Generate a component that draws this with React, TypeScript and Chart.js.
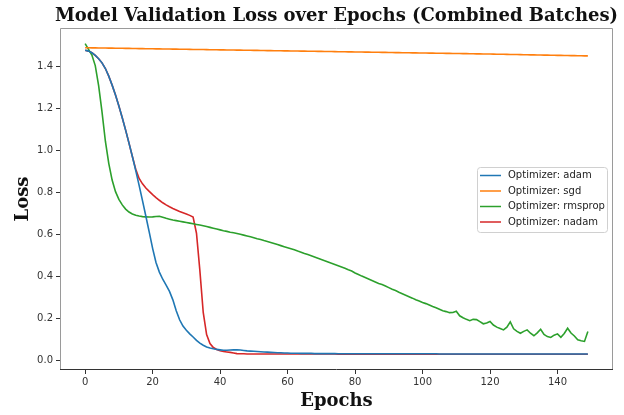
import React, { useEffect, useRef } from "react";
import { Chart, registerables } from "chart.js";

Chart.register(...registerables);

// Epoch indices 0..149
const epochs: number[] = Array.from({ length: 150 }, (_, i) => i);

const xTicks = [0, 20, 40, 60, 80, 100, 120, 140];
const yTicks = [0.0, 0.2, 0.4, 0.6, 0.8, 1.0, 1.2, 1.4];

const adamLoss = [
  1.478, 1.474, 1.466, 1.454, 1.438, 1.418, 1.391, 1.355, 1.312, 1.265,
  1.213, 1.157, 1.098, 1.036, 0.972, 0.905, 0.835, 0.762, 0.688, 0.612,
  0.535, 0.468, 0.422, 0.388, 0.36, 0.33, 0.29, 0.238, 0.195, 0.165,
  0.145, 0.128, 0.113, 0.097, 0.084, 0.074, 0.066, 0.061, 0.057, 0.054,
  0.052, 0.05, 0.05, 0.051, 0.052, 0.052, 0.051, 0.049, 0.047, 0.046,
  0.045, 0.044, 0.043, 0.042, 0.041, 0.04, 0.039, 0.038, 0.038, 0.037,
  0.037, 0.036, 0.036, 0.036, 0.035, 0.035, 0.035, 0.035, 0.034, 0.034,
  0.034, 0.034, 0.034, 0.034, 0.034, 0.033, 0.033, 0.033, 0.033, 0.033,
  0.033, 0.033, 0.033, 0.033, 0.033, 0.033, 0.033, 0.033, 0.033, 0.033,
  0.033, 0.033, 0.033, 0.033, 0.033, 0.033, 0.033, 0.033, 0.033, 0.033,
  0.033, 0.033, 0.033, 0.033, 0.033, 0.032, 0.032, 0.032, 0.032, 0.032,
  0.032, 0.032, 0.032, 0.032, 0.032, 0.032, 0.032, 0.032, 0.032, 0.032,
  0.032, 0.032, 0.032, 0.032, 0.032, 0.032, 0.032, 0.032, 0.032, 0.032,
  0.032, 0.032, 0.032, 0.032, 0.032, 0.032, 0.032, 0.032, 0.032, 0.032,
  0.032, 0.032, 0.032, 0.032, 0.032, 0.032, 0.032, 0.032, 0.032, 0.032,
];

const sgdLoss = [
  1.49, 1.4898, 1.4895, 1.4893, 1.489, 1.4888, 1.4885, 1.4883, 1.488, 1.4878,
  1.4875, 1.4873, 1.487, 1.4868, 1.4865, 1.4863, 1.486, 1.4858, 1.4855, 1.4853,
  1.485, 1.4848, 1.4845, 1.4843, 1.484, 1.4838, 1.4835, 1.4833, 1.483, 1.4828,
  1.4825, 1.4823, 1.482, 1.4818, 1.4815, 1.4813, 1.481, 1.4808, 1.4805, 1.4803,
  1.48, 1.4798, 1.4795, 1.4793, 1.479, 1.4788, 1.4785, 1.4783, 1.478, 1.4778,
  1.4775, 1.4773, 1.477, 1.4768, 1.4765, 1.4763, 1.476, 1.4758, 1.4755, 1.4753,
  1.475, 1.4748, 1.4745, 1.4743, 1.474, 1.4738, 1.4735, 1.4733, 1.473, 1.4728,
  1.4725, 1.4723, 1.472, 1.4718, 1.4715, 1.4713, 1.471, 1.4708, 1.4705, 1.4703,
  1.47, 1.4698, 1.4695, 1.4693, 1.469, 1.4688, 1.4685, 1.4683, 1.468, 1.4678,
  1.4675, 1.4673, 1.467, 1.4668, 1.4665, 1.4663, 1.466, 1.4658, 1.4655, 1.4653,
  1.465, 1.4648, 1.4645, 1.4643, 1.4641, 1.4638, 1.4636, 1.4634, 1.4631, 1.4629,
  1.4626, 1.4624, 1.4621, 1.4618, 1.4616, 1.4613, 1.461, 1.4608, 1.4605, 1.4602,
  1.4599, 1.4596, 1.4593, 1.459, 1.4587, 1.4584, 1.4581, 1.4578, 1.4575, 1.4572,
  1.4569, 1.4566, 1.4563, 1.456, 1.4557, 1.4554, 1.4551, 1.4548, 1.4545, 1.4542,
  1.4539, 1.4536, 1.4533, 1.453, 1.4527, 1.4524, 1.4521, 1.4518, 1.4515, 1.4512,
];

const rmspropLoss = [
  1.51, 1.482, 1.455, 1.405, 1.31, 1.185, 1.045, 0.94, 0.86, 0.805,
  0.768, 0.742, 0.722, 0.708, 0.699, 0.693, 0.689, 0.686, 0.685, 0.684,
  0.685, 0.687, 0.688, 0.683, 0.678, 0.674, 0.67, 0.667, 0.664, 0.661,
  0.658, 0.655, 0.652, 0.649, 0.646, 0.643, 0.639, 0.635, 0.631, 0.627,
  0.623, 0.619, 0.616, 0.612, 0.609, 0.606, 0.602, 0.598, 0.594, 0.59,
  0.586, 0.581, 0.577, 0.572, 0.568, 0.563, 0.558, 0.553, 0.548, 0.543,
  0.538, 0.533, 0.528, 0.522, 0.517, 0.511, 0.506, 0.5, 0.494, 0.488,
  0.482, 0.476, 0.47, 0.464, 0.458, 0.452, 0.446, 0.44, 0.433, 0.427,
  0.418, 0.411, 0.403, 0.396, 0.389, 0.382, 0.375, 0.368, 0.363, 0.356,
  0.348, 0.34, 0.334, 0.326, 0.319, 0.312, 0.305, 0.298, 0.29, 0.284,
  0.277, 0.272, 0.265, 0.258, 0.252, 0.245, 0.238, 0.234, 0.229, 0.23,
  0.236, 0.214, 0.205, 0.197, 0.191, 0.197, 0.196, 0.186, 0.176, 0.18,
  0.187, 0.17, 0.16, 0.154, 0.147, 0.16, 0.185, 0.152, 0.14, 0.131,
  0.14, 0.147, 0.131, 0.119, 0.133, 0.15, 0.125, 0.115, 0.111, 0.122,
  0.128, 0.112, 0.13, 0.155, 0.132, 0.118, 0.1, 0.095, 0.092, 0.139,
];

const nadamLoss = [
  1.478, 1.474, 1.466, 1.454, 1.438, 1.418, 1.391, 1.355, 1.312, 1.265,
  1.213, 1.157, 1.098, 1.036, 0.972, 0.912, 0.868, 0.842, 0.822, 0.806,
  0.791, 0.777, 0.764, 0.752, 0.742, 0.733, 0.725, 0.718, 0.711, 0.705,
  0.699, 0.692, 0.684, 0.607, 0.43, 0.23, 0.125, 0.082, 0.063, 0.054,
  0.048, 0.044, 0.042, 0.04, 0.037, 0.034, 0.033, 0.033, 0.032, 0.032,
  0.032, 0.032, 0.032, 0.032, 0.032, 0.032, 0.032, 0.032, 0.032, 0.032,
  0.032, 0.032, 0.032, 0.032, 0.032, 0.032, 0.032, 0.032, 0.032, 0.032,
  0.032, 0.032, 0.032, 0.032, 0.032, 0.031, 0.031, 0.031, 0.031, 0.031,
  0.031, 0.031, 0.031, 0.031, 0.031, 0.031, 0.031, 0.031, 0.031, 0.031,
  0.031, 0.031, 0.031, 0.031, 0.031, 0.031, 0.031, 0.031, 0.031, 0.031,
  0.031, 0.031, 0.031, 0.031, 0.031, 0.031, 0.031, 0.031, 0.031, 0.031,
  0.031, 0.031, 0.031, 0.031, 0.031, 0.031, 0.031, 0.031, 0.031, 0.031,
  0.031, 0.031, 0.031, 0.031, 0.031, 0.031, 0.031, 0.031, 0.031, 0.031,
  0.031, 0.031, 0.031, 0.031, 0.031, 0.031, 0.031, 0.031, 0.031, 0.031,
  0.031, 0.031, 0.031, 0.031, 0.031, 0.031, 0.031, 0.031, 0.031, 0.031,
];

const seriesNames = ["Optimizer: adam", "Optimizer: sgd", "Optimizer: rmsprop", "Optimizer: nadam"];
const seriesValues = [adamLoss, sgdLoss, rmspropLoss, nadamLoss];
const seriesColors = ["#1f77b4", "#ff7f0e", "#2ca02c", "#d62728"];

const titleText = "Model Validation Loss over Epochs (Combined Batches)";
const xLabel = "Epochs";
const yLabel = "Loss";

const SANS = "'DejaVu Sans', sans-serif";
const SERIF = "'DejaVu Serif', serif";

// Title, axis labels, frame and legend drawn in matplotlib style
const decorations = {
  id: "decorations",
  afterDraw(chart: Chart) {
    const { ctx, chartArea } = chart;
    const { left, right, top, bottom } = chartArea;
    ctx.save();

    // frame
    ctx.lineWidth = 1;
    ctx.strokeStyle = "#9a9a9a";
    ctx.beginPath();
    ctx.moveTo(left + 0.5, bottom);
    ctx.lineTo(left + 0.5, top + 0.5);
    ctx.lineTo(right - 0.5, top + 0.5);
    ctx.lineTo(right - 0.5, bottom);
    ctx.stroke();
    ctx.strokeStyle = "#333333";
    ctx.beginPath();
    ctx.moveTo(left, bottom - 0.5);
    ctx.lineTo(right, bottom - 0.5);
    ctx.stroke();

    // title
    ctx.fillStyle = "#111";
    ctx.textAlign = "center";
    ctx.textBaseline = "middle";
    ctx.font = `bold 18px ${SERIF}`;
    ctx.fillText(titleText, (left + right) / 2, 16);

    // axis titles
    ctx.font = `bold 18px ${SERIF}`;
    ctx.fillText(xLabel, (left + right) / 2, 401);
    ctx.save();
    ctx.translate(23, (top + bottom) / 2);
    ctx.rotate(-Math.PI / 2);
    ctx.fillText(yLabel, 0, 0);
    ctx.restore();

    // legend
    const bx = 477, by = 167, bw = 130, bh = 65;
    ctx.fillStyle = "rgba(255,255,255,0.85)";
    ctx.strokeStyle = "#d0d0d0";
    ctx.lineWidth = 1;
    ctx.beginPath();
    ctx.roundRect(bx + 0.5, by + 0.5, bw, bh, 3);
    ctx.fill();
    ctx.stroke();
    ctx.font = `10px ${SANS}`;
    ctx.textAlign = "left";
    ctx.textBaseline = "middle";
    seriesNames.forEach((name, i) => {
      const y = by + 8.5 + i * 15.5;
      ctx.strokeStyle = seriesColors[i];
      ctx.lineWidth = 1.5;
      ctx.beginPath();
      ctx.moveTo(bx + 3, y);
      ctx.lineTo(bx + 24, y);
      ctx.stroke();
      ctx.fillStyle = "#222";
      ctx.fillText(name, bx + 31, y);
    });

    ctx.restore();
  },
};

export default function App() {
  const canvasRef = useRef<HTMLCanvasElement | null>(null);

  useEffect(() => {
    document.body.style.margin = "0";
    const canvas = canvasRef.current;
    if (!canvas) return;

    const chart = new Chart(canvas, {
      type: "line",
      data: {
        datasets: seriesValues.map((vals, i) => ({
          label: seriesNames[i],
          data: epochs.map((e, j) => ({ x: e, y: vals[j] })),
          borderColor: seriesColors[i],
          backgroundColor: seriesColors[i],
          borderWidth: 1.6,
          pointRadius: 0,
          tension: 0,
          fill: false,
        })),
      },
      options: {
        responsive: false,
        animation: false,
        devicePixelRatio: 1,
        layout: { padding: { top: 28, right: 11, left: 0, bottom: 0 } },
        plugins: {
          legend: { display: false },
          title: { display: false },
          tooltip: { enabled: false },
        },
        scales: {
          x: {
            type: "linear",
            min: -7.45,
            max: 156.45,
            afterBuildTicks: (scale: any) => {
              scale.ticks = xTicks.map((v) => ({ value: v }));
            },
            afterFit: (scale: any) => {
              scale.height = 45;
            },
            grid: { display: true, drawOnChartArea: false, drawTicks: true, tickLength: 4, color: "#333" },
            border: { display: false },
            ticks: {
              font: { family: SANS, size: 10 },
              color: "#333",
              padding: 2,
              maxRotation: 0,
              callback: (v: any) => String(v),
            },
          },
          y: {
            type: "linear",
            min: -0.044,
            max: 1.584,
            afterBuildTicks: (scale: any) => {
              scale.ticks = yTicks.map((v) => ({ value: v }));
            },
            afterFit: (scale: any) => {
              scale.width = 60;
            },
            grid: { display: true, drawOnChartArea: false, drawTicks: true, tickLength: 4, color: "#333" },
            border: { display: false },
            ticks: {
              font: { family: SANS, size: 10 },
              color: "#333",
              padding: 3,
              callback: (v: any) => Number(v).toFixed(1),
            },
          },
        },
      },
      plugins: [decorations],
    });

    return () => chart.destroy();
  }, []);

  return (
    <div style={{ width: 624, height: 415, background: "#fff" }}>
      <canvas ref={canvasRef} width={624} height={415} style={{ width: 624, height: 415, display: "block" }} />
    </div>
  );
}
